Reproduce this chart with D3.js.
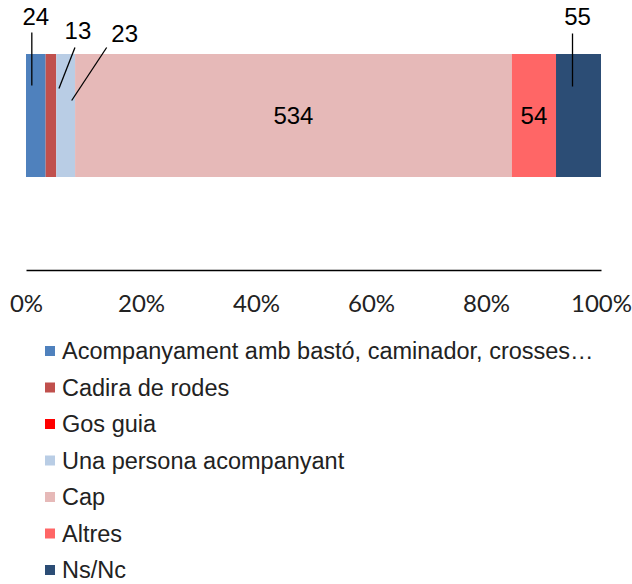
<!DOCTYPE html>
<html>
<head>
<meta charset="utf-8">
<script src="https://cdn.jsdelivr.net/npm/d3@7"></script>
<style>
  body { margin: 0; background: #fff; }
  svg { display: block; }
</style>
</head>
<body>
<svg id="chart" width="632" height="584"></svg>
<script>
// categories (series) and values
const seriesNames = ['Acompanyament amb bastó, caminador, crosses…', 'Cadira de rodes', 'Gos guia', 'Una persona acompanyant', 'Cap', 'Altres', 'Ns/Nc'];
const seriesValues = [24, 13, 0, 23, 534, 54, 55];
const seriesColors = ['#4F81BD', '#C0504D', '#FF0000', '#B9CDE5', '#E6B9B8', '#FF6666', '#2C4D75'];
const tickValues = [0, 0.2, 0.4, 0.6, 0.8, 1];

// label placement per series: inside, callout (with offsets), or none
const labelMode = ['callout', 'callout', 'none', 'callout', 'inside', 'inside', 'callout'];
const callouts = {
    0: {lx: 0, ly: -99, x1: -4, y1: -83, x2: -4, y2: -30},
    1: {lx: 27, ly: -85, x1: 24, y1: -68, x2: 8, y2: -27},
    3: {lx: 59, ly: -82, x1: 41, y1: -68, x2: 6, y2: -15},
    6: {lx: -1, ly: -99, x1: -6, y1: -82, x2: -6, y2: -29}
};

const margin = {left: 26, right: 31, top: 54};
const width = 632 - margin.left - margin.right;
const barH = 123;

const svg = d3.select('#chart');

const total = d3.sum(seriesValues);
let acc = 0;
const segs = seriesValues.map((v, i) => {
    const s = {i: i, v: v, x0: acc / total, x1: (acc + v) / total};
    acc += v;
    return s;
});

const x = d3.scaleLinear().domain([0, 1]).range([margin.left, margin.left + width]);

//bars
svg.append('g').selectAll('rect')
    .data(segs)
    .enter().append('rect')
        .attr('x', d => x(d.x0))
        .attr('y', margin.top)
        .attr('width', d => x(d.x1) - x(d.x0))
        .attr('height', barH)
        .attr('fill', d => seriesColors[d.i]);

const cy = margin.top + barH / 2;

//inside labels
svg.append('g').selectAll('text')
    .data(segs.filter(d => labelMode[d.i] == 'inside'))
    .enter().append('text')
        .attr('x', d => (x(d.x0) + x(d.x1)) / 2)
        .attr('y', cy)
        .attr('dy', '0.35em')
        .attr('text-anchor', 'middle')
        .style('font-family', 'Liberation Sans, Arial, sans-serif')
        .style('font-size', '24px')
        .attr('fill', '#000')
        .text(d => d.v);

//callout labels with leader lines
const co = svg.append('g');
segs.filter(d => labelMode[d.i] == 'callout').forEach(d => {
    const c = callouts[d.i];
    const cx = (x(d.x0) + x(d.x1)) / 2;
    co.append('line')
        .attr('x1', cx + c.x1).attr('y1', cy + c.y1)
        .attr('x2', cx + c.x2).attr('y2', cy + c.y2)
        .attr('stroke', '#000')
        .attr('stroke-width', 1.3);
    co.append('text')
        .attr('x', cx + c.lx)
        .attr('y', cy + c.ly)
        .attr('dy', '0.35em')
        .attr('text-anchor', 'middle')
        .style('font-family', 'Liberation Sans, Arial, sans-serif')
        .style('font-size', '24px')
        .attr('fill', '#000')
        .text(d.v);
});

//x axis
const axisY = 270;
const xAxis = d3.axisBottom(x)
    .tickValues(tickValues)
    .tickFormat(d3.format('.0%'))
    .tickSize(0)
    .tickPadding(25);

const ax = svg.append('g')
    .attr('transform', `translate(0,${axisY})`)
    .call(xAxis);
ax.select('.domain').attr('stroke', '#000').attr('stroke-width', 1.3);
ax.selectAll('text')
    .style('font-family', 'Lato, Carlito, Calibri, sans-serif')
    .style('font-size', '24px')
    .attr('fill', '#222');

//legend
const legend = svg.append('g').attr('transform', 'translate(45,351)');
const rows = legend.selectAll('g')
    .data(seriesNames)
    .enter().append('g')
        .attr('transform', (d, i) => `translate(0,${i * 36.5})`);
rows.append('rect')
    .attr('x', 0).attr('y', -5)
    .attr('width', 10).attr('height', 10)
    .attr('fill', (d, i) => seriesColors[i]);
rows.append('text')
    .attr('x', 17)
    .attr('dy', '0.35em')
    .style('font-family', 'Liberation Sans, Arial, sans-serif')
    .style('font-size', '23.5px')
    .attr('fill', '#222')
    .text(d => d);
</script>
</body>
</html>
